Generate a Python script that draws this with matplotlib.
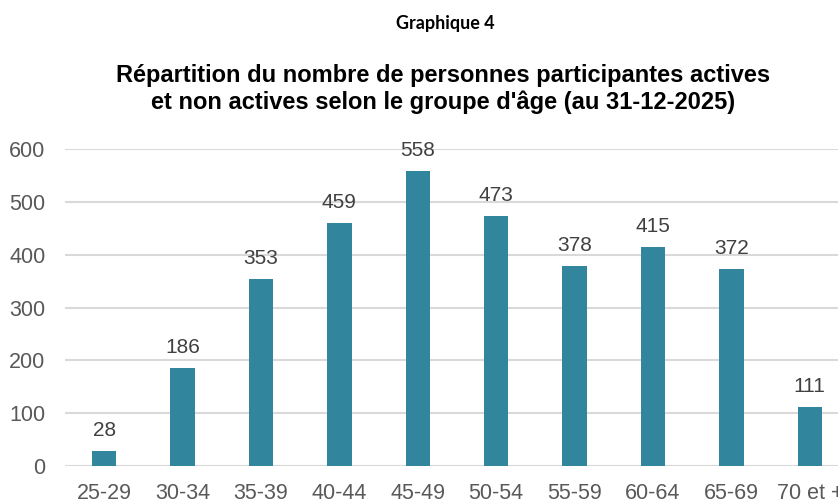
import matplotlib
matplotlib.use("AGG")
from matplotlib import pyplot as plt

groups = ["25-29", "30-34", "35-39", "40-44", "45-49", "50-54", "55-59", "60-64", "65-69", "70 et +"]
counts = [28, 186, 353, 459, 558, 473, 378, 415, 372, 111]
yticks = [0, 100, 200, 300, 400, 500, 600]

W, H = 838, 499
fig = plt.figure(figsize=(W / 100, H / 100), dpi=100)
# axes is wider than the figure on purpose: the last category is cut off in the original
ax = fig.add_axes([65 / W, 33 / H, 784 / W, 317 / H])

x = list(range(len(groups)))
ax.bar(x, counts, width=0.31, color="#31859c", zorder=3)
for xi, v in zip(x, counts):
    ax.annotate(str(v), (xi, v), xytext=(0, 8), textcoords="offset points",
                ha="center", va="bottom", fontsize=15, color="#404040",
                family="Liberation Sans")

ax.set_xlim(-0.5, len(groups) - 0.5)
ax.set_ylim(0, 600)
ax.set_yticks(yticks)
ax.set_xticks(x)
ax.set_xticklabels(groups)
ax.yaxis.grid(True, color="#d9d9d9", linewidth=1.5, zorder=0)
ax.set_axisbelow(True)
for s in ax.spines.values():
    s.set_visible(False)
ax.tick_params(length=0, labelsize=15.5, labelcolor="#595959")
ax.tick_params(axis="x", pad=12)
ax.tick_params(axis="y", pad=14)
for lab in ax.get_xticklabels() + ax.get_yticklabels():
    lab.set_family("Liberation Sans")

fig.text(445 / W, 1 - 23 / H, "Graphique 4", ha="center", va="center",
         fontsize=13, fontweight="bold", family="Lato")
fig.text(443 / W, 1 - 89 / H,
         "Répartition du nombre de personnes participantes actives\n"
         "et non actives selon le groupe d'âge (au 31-12-2025)",
         ha="center", va="center", fontsize=17, fontweight="bold",
         family="Liberation Sans", linespacing=1.15)

plt.savefig("out.png", dpi=100)
